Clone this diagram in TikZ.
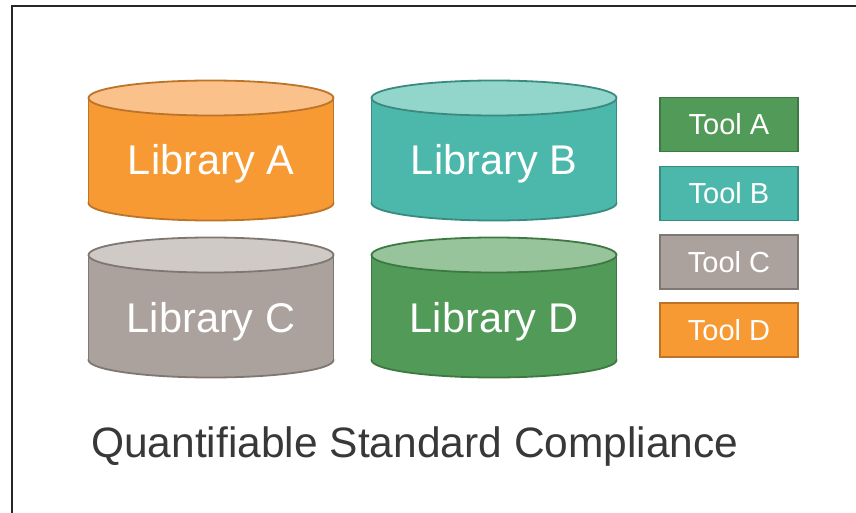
\documentclass[tikz,border=0pt]{standalone}
\usepackage{fontspec}
\setmainfont{Liberation Sans}
\definecolor{orbody}{HTML}{F79A33}
\definecolor{ortop}{HTML}{FAC18A}
\definecolor{oredge}{HTML}{BC7429}
\definecolor{tlbody}{HTML}{4BB8AB}
\definecolor{tltop}{HTML}{92D5CB}
\definecolor{tledge}{HTML}{3B8A80}
\definecolor{grbody}{HTML}{ABA29D}
\definecolor{grtop}{HTML}{CFCAC6}
\definecolor{gredge}{HTML}{7F7772}
\definecolor{gnbody}{HTML}{529A58}
\definecolor{gntop}{HTML}{98C49B}
\definecolor{gnedge}{HTML}{3E7843}
\definecolor{titlegray}{HTML}{383838}
\definecolor{framegray}{HTML}{262626}
\begin{document}
\begin{tikzpicture}[x=1pt,y=-1pt,
  frame/.style={draw=framegray,line width=2pt},
  libtext/.style={text=white,font=\fontsize{41.5}{48}\selectfont,inner sep=0pt,anchor=base},
  toolbox/.style={line width=1.8pt,minimum width=138pt,minimum height=54pt,inner sep=0pt,text=white,font=\fontsize{29}{34}\selectfont},
  titletext/.style={text=titlegray,font=\fontsize{42.5}{50}\selectfont,inner sep=0pt,anchor=base west}]
\useasboundingbox (0,0) rectangle (856,513);
\fill[white] (0,0) rectangle (856,513);
\draw[frame] (12,514) -- (12,6) -- (857,6);
\def\rx{122.5}
\def\ry{17.5}
\foreach \nm/\cx/\yt/\yb/\bd/\tp/\ed/\lab in {
  libA/211/98/203/orbody/ortop/oredge/Library A,
  libB/494/98/203/tlbody/tltop/tledge/Library B,
  libC/211/255/360/grbody/grtop/gredge/Library C,
  libD/494/255/360/gnbody/gntop/gnedge/Library D}{
  \filldraw[fill=\bd,draw=\ed,line width=1.8pt] (\cx,\yb) ellipse [x radius=\rx, y radius=\ry];
  \fill[\bd] (\cx-\rx,\yt) rectangle (\cx+\rx,\yb);
  \draw[\ed,line width=1.8pt] (\cx-\rx,\yt) -- (\cx-\rx,\yb) (\cx+\rx,\yt) -- (\cx+\rx,\yb);
  \filldraw[fill=\tp,draw=\ed,line width=1.8pt] (\cx,\yt) ellipse [x radius=\rx, y radius=\ry];
  \node[libtext] (\nm) at (\cx,{\yb-28}) {\lab};
}
\node[toolbox,fill=gnbody,draw=gnedge] (toolA) at (729,124.5) {Tool A};
\node[toolbox,fill=tlbody,draw=tledge] (toolB) at (729,193.5) {Tool B};
\node[toolbox,fill=grbody,draw=gredge] (toolC) at (729,262) {Tool C};
\node[toolbox,fill=orbody,draw=oredge] (toolD) at (729,330) {Tool D};
\node[titletext] (title) at (91,457) {Quantifiable Standard Compliance};
\end{tikzpicture}
\end{document}
